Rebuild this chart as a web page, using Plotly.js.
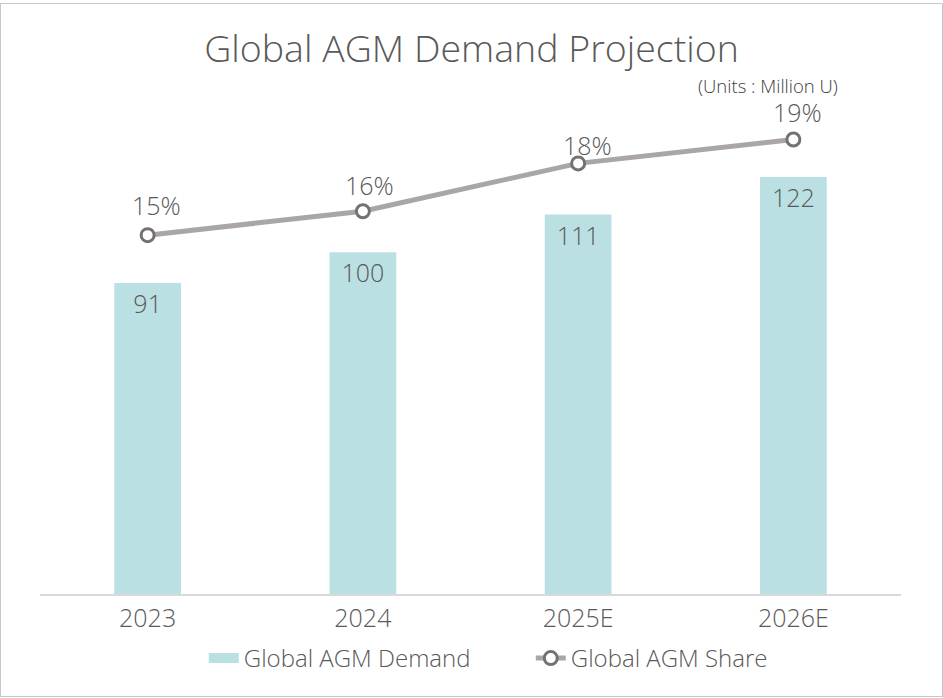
<!DOCTYPE html>
<html>
<head>
<meta charset="utf-8">
<script src="https://cdn.plot.ly/plotly-3.0.1.min.js"></script>
<style>
  html, body { margin: 0; padding: 0; background: #ffffff; }
  #chart { position: absolute; left: 0; top: 0; width: 943px; height: 698px; }
  #frame { position: absolute; left: 0; top: 3px; width: 943px; height: 694px; box-sizing: border-box;
           border: 1px solid #c8c8c8; pointer-events: none; }
</style>
</head>
<body>
<div id="chart"></div>
<div id="frame"></div>
<script>
const categories = ["2023", "2024", "2025E", "2026E"];
const demandValues = [91, 100, 111, 122];
const shareValues = [0.15, 0.16, 0.18, 0.19];
const demandName = "Global AGM Demand";
const shareName = "Global AGM Share";
const titleText = "Global AGM Demand Projection";
const unitsText = "(Units : Million U)";

// label placement offsets (pixels) for the share labels, as placed in the original
const shareLabelDx = [9, 7, 9, 4];
const shareLabelDy = [30, 26, 18, 27];

const FONT = "'Open Sans', 'Noto Sans', sans-serif";
const TXT = "#595959";
const BAR_COLOR = "#bbe0e3";
const LINE_COLOR = "#aba6a6";

const traces = [
  {
    type: "bar",
    name: demandName,
    x: categories,
    y: demandValues,
    text: demandValues.map(v => String(v)),
    textposition: "inside",
    insidetextanchor: "end",
    textfont: { family: FONT, size: 25, color: TXT, weight: 300 },
    marker: { color: BAR_COLOR },
    showlegend: false,
    hoverinfo: "skip"
  },
  {
    // legend entry for the bars (wide swatch like the original); draws nothing in the plot
    type: "scatter",
    mode: "lines",
    name: demandName,
    x: categories,
    y: categories.map(() => null),
    line: { color: BAR_COLOR, width: 12 },
    showlegend: true,
    hoverinfo: "skip"
  },
  {
    type: "scatter",
    mode: "lines+markers",
    name: shareName,
    x: categories,
    y: shareValues,
    yaxis: "y2",
    line: { color: LINE_COLOR, width: 5 },
    marker: { size: 13, color: "#ffffff", line: { color: "#767171", width: 3 } },
    cliponaxis: false,
    hoverinfo: "skip"
  }
];

// on a category axis a numeric x is the category index
const shareAnnotations = categories.map((c, i) => ({
  x: i,
  y: shareValues[i],
  xref: "x",
  yref: "y2",
  text: Math.round(shareValues[i] * 100) + "%",
  showarrow: false,
  xanchor: "center",
  yanchor: "middle",
  xshift: shareLabelDx[i],
  yshift: shareLabelDy[i],
  font: { family: FONT, size: 25, color: TXT, weight: 300 }
}));

const layout = {
  width: 943,
  height: 698,
  margin: { l: 40, r: 42, t: 100, b: 104 },
  paper_bgcolor: "rgba(0,0,0,0)",
  plot_bgcolor: "rgba(0,0,0,0)",
  font: { family: FONT, color: TXT, weight: 300 },
  title: {
    text: titleText,
    font: { family: FONT, size: 37.5, color: TXT, weight: 300 },
    x: 0.5, xanchor: "center",
    y: 0.93, yanchor: "middle"
  },
  bargap: 0.69,
  showlegend: true,
  legend: {
    orientation: "h",
    x: 0.57, xanchor: "center",
    y: -0.085, yanchor: "top",
    font: { family: FONT, size: 24, color: TXT, weight: 300 },
    entrywidth: 282,
    entrywidthmode: "pixels",
    traceorder: "normal"
  },
  xaxis: {
    type: "category",
    categoryorder: "array",
    categoryarray: categories,
    range: [-0.5, categories.length - 0.5],
    showline: true,
    linecolor: "#d9d9d9",
    linewidth: 2,
    showgrid: false,
    ticks: "",
    ticklabelstandoff: 1,
    tickfont: { family: FONT, size: 25, color: TXT, weight: 300 },
    fixedrange: true
  },
  yaxis: {
    range: [0, 144.5],
    visible: false,
    showgrid: false,
    zeroline: false,
    fixedrange: true
  },
  yaxis2: {
    range: [0, 0.2065],
    overlaying: "y",
    side: "right",
    visible: false,
    showgrid: false,
    zeroline: false,
    fixedrange: true
  },
  annotations: [
    {
      text: unitsText,
      xref: "paper", yref: "paper",
      x: 0.929, xanchor: "right",
      y: 1.03, yanchor: "middle",
      showarrow: false,
      font: { family: FONT, size: 18.5, color: "#404040", weight: 300 }
    }
  ].concat(shareAnnotations)
};

Plotly.newPlot("chart", traces, layout, { displayModeBar: false, staticPlot: true });
</script>
</body>
</html>
